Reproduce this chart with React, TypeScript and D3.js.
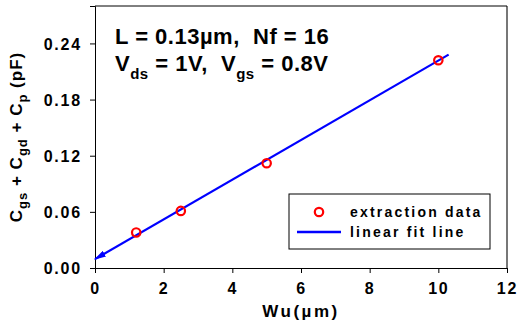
import * as d3 from "d3";
import React, { useEffect, useRef } from "react";

// extraction data
const widths = [1.2, 2.5, 5, 10];
const capacitance = [0.038, 0.061, 0.112, 0.222];

// linear fit line (start / end of the drawn segment)
const fitX = [0, 10.3];
const fitY = [0.0095, 0.228];

const xTicks = [0, 2, 4, 6, 8, 10, 12];
const yTicks = [0, 0.06, 0.12, 0.18, 0.24];

const legendLabels = ["extraction data", "linear fit line"];

const App = () => {
  const ref = useRef<SVGSVGElement>(null);

  useEffect(() => {
    const width = 517;
    const height = 325;
    const margin = { left: 95, right: 10, top: 6, bottom: 57 };
    const font = "'Liberation Sans', Arial, sans-serif";

    const svg = d3.select(ref.current).attr("width", width).attr("height", height);
    svg.selectAll("*").remove();

    const x = d3.scaleLinear().domain([0, 12]).range([margin.left, width - margin.right]);
    const y = d3.scaleLinear().domain([0, 0.28]).range([height - margin.bottom, margin.top]);

    svg.append("rect").attr("width", width).attr("height", height).attr("fill", "white");

    // frame
    svg
      .append("line")
      .attr("x1", x(12)).attr("x2", x(12))
      .attr("y1", y(0.28)).attr("y2", y(0))
      .attr("stroke", "#777").attr("stroke-width", 2);
    svg
      .append("line")
      .attr("x1", x(0)).attr("x2", x(12))
      .attr("y1", y(0.28)).attr("y2", y(0.28))
      .attr("stroke", "black");

    // axes
    const xAxis = svg
      .append("g")
      .attr("transform", `translate(0, ${y(0)})`)
      .call(d3.axisBottom(x).tickValues(xTicks).tickSize(5).tickPadding(10).tickFormat(d3.format("d")));
    const yAxis = svg
      .append("g")
      .attr("transform", `translate(${x(0)}, 0)`)
      .call(d3.axisLeft(y).tickValues(yTicks).tickSize(5).tickPadding(8).tickFormat(d3.format(".2f")));

    [xAxis, yAxis].forEach((g) => {
      g.select(".domain").attr("stroke", "black");
      g.selectAll(".tick line").attr("stroke", "black");
      g.selectAll(".tick text")
        .attr("fill", "black")
        .style("font-family", font)
        .style("font-size", "16px")
        .style("font-weight", "bold")
        .style("letter-spacing", "1.8px");
    });
    yAxis.selectAll(".tick text").attr("dy", "0.36em");

    // fit line with arrow at the start
    svg
      .append("defs")
      .append("marker")
      .attr("id", "arrow")
      .attr("viewBox", "0 0 10 10")
      .attr("refX", 9)
      .attr("refY", 5)
      .attr("markerWidth", 5.5)
      .attr("markerHeight", 3)
      .attr("orient", "auto-start-reverse")
      .attr("preserveAspectRatio", "none")
      .append("path")
      .attr("d", "M0,0 L10,5 L0,10 Z")
      .attr("fill", "#0000ff");

    const line = d3
      .line<number>()
      .x((d) => x(d))
      .y((d, i) => y(fitY[i]));
    svg
      .append("path")
      .attr("d", line(fitX))
      .attr("fill", "none")
      .attr("stroke", "#0000ff")
      .attr("stroke-width", 2.2)
      .attr("marker-start", "url(#arrow)");

    // data markers
    svg
      .selectAll("circle.pt")
      .data(widths)
      .enter()
      .append("circle")
      .attr("class", "pt")
      .attr("cx", (d) => x(d))
      .attr("cy", (d, i) => y(capacitance[i]))
      .attr("r", 4.2)
      .attr("fill", "none")
      .attr("stroke", "#ff0000")
      .attr("stroke-width", 2.2);

    // annotation
    const note = svg
      .append("g")
      .style("font-family", font)
      .style("font-weight", "bold")
      .style("font-size", "22px")
      .style("letter-spacing", "0.5px");
    note.append("text").attr("x", 115).attr("y", 44).text("L = 0.13\u00b5m,\u00a0\u00a0Nf = 16");
    const t2 = note.append("text").attr("x", 115).attr("y", 71);
    t2.append("tspan").text("V");
    t2.append("tspan").attr("dy", 8).style("font-size", "15px").text("ds");
    t2.append("tspan").attr("dy", -8).text(" = 1V,\u00a0\u00a0V");
    t2.append("tspan").attr("dy", 8).style("font-size", "15px").text("gs");
    t2.append("tspan").attr("dy", -8).text(" = 0.8V");

    // legend
    const lg = svg.append("g");
    lg.append("rect")
      .attr("x", 289).attr("y", 194)
      .attr("width", 201).attr("height", 55)
      .attr("fill", "white").attr("stroke", "black");
    lg.append("circle")
      .attr("cx", 319).attr("cy", 212).attr("r", 4.2)
      .attr("fill", "none").attr("stroke", "#ff0000").attr("stroke-width", 2.2);
    lg.append("line")
      .attr("x1", 297).attr("x2", 341).attr("y1", 232).attr("y2", 232)
      .attr("stroke", "#0000ff").attr("stroke-width", 2.5);
    lg.selectAll("text")
      .data(legendLabels)
      .enter()
      .append("text")
      .attr("x", 350)
      .attr("y", (d, i) => 217 + i * 20)
      .style("font-family", font)
      .style("font-weight", "bold")
      .style("font-size", "14px")
      .style("letter-spacing", "2.2px")
      .text((d) => d);

    // axis titles
    svg
      .append("text")
      .attr("x", x(6))
      .attr("y", 317)
      .attr("text-anchor", "middle")
      .style("font-family", font)
      .style("font-weight", "bold")
      .style("font-size", "17px")
      .style("letter-spacing", "2.5px")
      .text("Wu(\u00b5m)");

    const yl = svg
      .append("text")
      .attr("transform", `translate(22, ${(y(0) + y(0.28)) / 2}) rotate(-90)`)
      .attr("text-anchor", "middle")
      .style("font-family", font)
      .style("font-weight", "bold")
      .style("font-size", "17px")
      .style("letter-spacing", "1px");
    yl.append("tspan").text("C");
    yl.append("tspan").attr("dy", 5).style("font-size", "13px").text("gs");
    yl.append("tspan").attr("dy", -5).text(" + C");
    yl.append("tspan").attr("dy", 5).style("font-size", "13px").text("gd");
    yl.append("tspan").attr("dy", -5).text(" + C");
    yl.append("tspan").attr("dy", 5).style("font-size", "13px").text("p");
    yl.append("tspan").attr("dy", -5).text(" (pF)");
  }, []);

  return (
    <svg ref={ref} style={{ position: "absolute", left: 0, top: 0, display: "block" }}></svg>
  );
};

export default App;
